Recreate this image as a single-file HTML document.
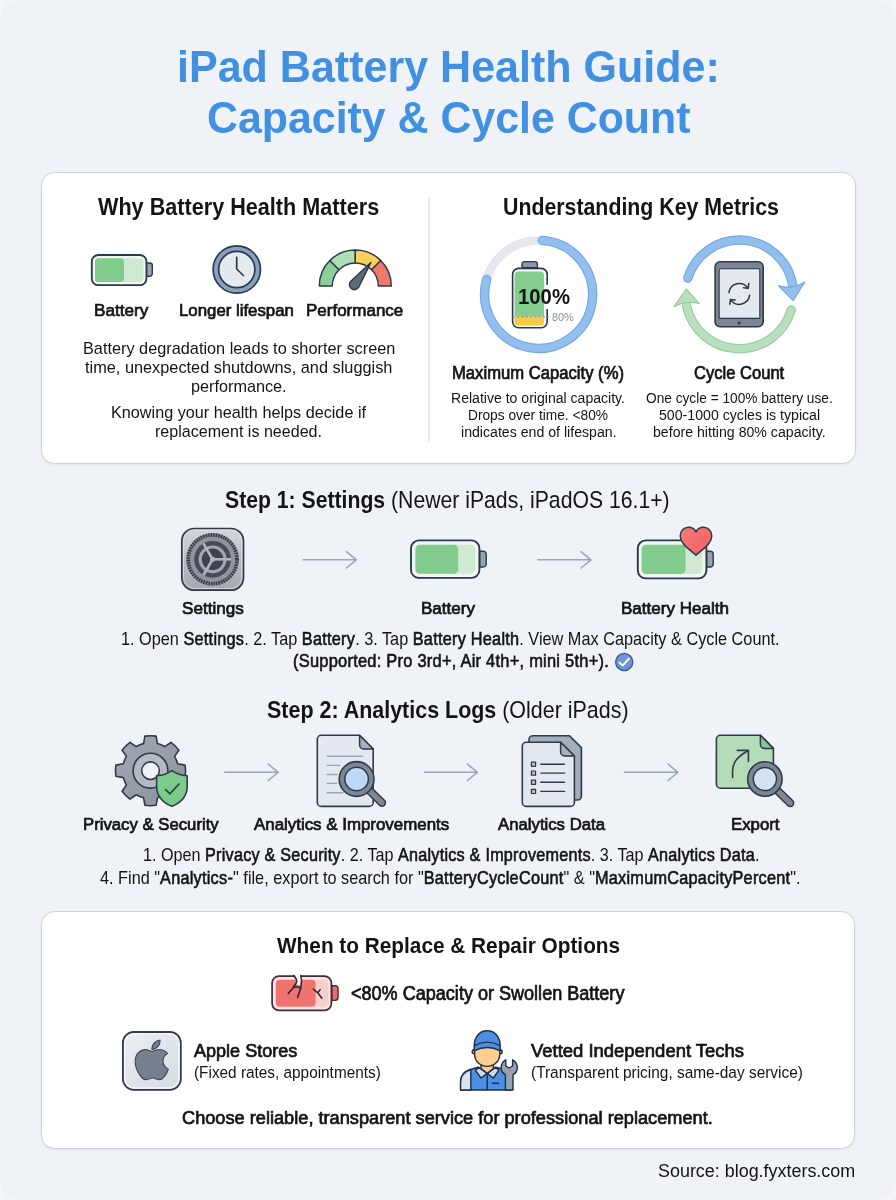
<!DOCTYPE html>
<html><head><meta charset="utf-8"><title>iPad Battery Health Guide</title>
<style>
html,body{margin:0;padding:0}
body{width:896px;height:1200px;background:#f5f6f9;font-family:"Liberation Sans",sans-serif;position:relative;overflow:hidden}
#page{position:absolute;left:0;top:0;width:896px;height:1200px;background:#eff2f7;border-radius:20px;will-change:transform}
.card{position:absolute;background:#fff;border:1.4px solid #ccd1d9;border-radius:13.5px;box-sizing:border-box;box-shadow:0 1px 2px rgba(120,135,160,.10)}
svg{position:absolute;left:0;top:0}
.t{position:absolute;white-space:nowrap;line-height:1;transform-origin:0 0;color:#141414}
.t b{font-weight:400;-webkit-text-stroke:0.6px currentColor;letter-spacing:0.015em}
.h b{font-weight:700;-webkit-text-stroke:0;letter-spacing:0}
.m{font-weight:400 !important;-webkit-text-stroke:0.72px currentColor}
</style></head>
<body>
<div id="page">
<div class="card" style="left:40.8px;top:171.5px;width:814.9px;height:292.6px"></div>
<div class="card" style="left:40.8px;top:911px;width:814.5px;height:237.9px"></div>
<svg width="896" height="1200" viewBox="0 0 896 1200">
<defs>
<linearGradient id="gSet" x1="0" y1="0" x2="0" y2="1"><stop offset="0" stop-color="#d4d6db"/><stop offset="1" stop-color="#a3a7ae"/></linearGradient>
<linearGradient id="gGear" x1="0" y1="0" x2="1" y2="1"><stop offset="0" stop-color="#a1a8b2"/><stop offset="1" stop-color="#8a929d"/></linearGradient>
<linearGradient id="gHeart" x1="0" y1="0" x2="1" y2="1"><stop offset="0" stop-color="#f47c78"/><stop offset="1" stop-color="#ee5f5d"/></linearGradient>
<linearGradient id="gApple" x1="0" y1="0" x2="1" y2="1"><stop offset="0" stop-color="#eceff4"/><stop offset="1" stop-color="#d6dbe3"/></linearGradient>
</defs>
<!-- ===== Card1: battery ===== -->
<g stroke-linejoin="round" stroke-linecap="round">
<path d="M146.5,263 h3.2 a2.6,2.6 0 0 1 2.6,2.6 v8 a2.6,2.6 0 0 1 -2.6,2.6 h-3.2z" fill="#9aa3ad" stroke="#2d384b" stroke-width="1.4"/>
<rect x="91.8" y="255" width="54.6" height="30.2" rx="6.5" fill="#f0f6f1" stroke="#2d384b" stroke-width="1.8"/>
<rect x="95" y="258.3" width="48.5" height="23.6" rx="4" fill="#cfe9d3"/>
<rect x="95" y="258.3" width="29" height="23.6" rx="3.5" fill="#82cc8e"/>
</g>
<!-- clock -->
<circle cx="236.8" cy="269.5" r="23.7" fill="#88a0ba" stroke="#2c3a50" stroke-width="1.7"/>
<circle cx="236.8" cy="269.5" r="18.1" fill="#e5eaf1" stroke="#2c3a50" stroke-width="1.7"/>
<path d="M236.7,257.4 V269 L243.4,275.5" fill="none" stroke="#2d384b" stroke-width="1.7" stroke-linecap="round" stroke-linejoin="round"/>
<!-- gauge -->
<g stroke="#2d384b" stroke-width="1.4" stroke-linejoin="round">
<path d="M319.3,286 A36,36 0 0 1 329.84,260.54 L339.04,269.74 A23,23 0 0 0 332.3,286 Z" fill="#8ccf98"/>
<path d="M329.84,260.54 A36,36 0 0 1 355.3,250 L355.3,263 A23,23 0 0 0 339.04,269.74 Z" fill="#addfb6"/>
<path d="M355.3,250 A36,36 0 0 1 380.76,260.54 L371.56,269.74 A23,23 0 0 0 355.3,263 Z" fill="#fad05a"/>
<path d="M380.76,260.54 A36,36 0 0 1 391.3,286 L378.3,286 A23,23 0 0 0 371.56,269.74 Z" fill="#ee7a6d"/>
<path d="M370.8,262.6 L358.7,287.2 A5,5 0 1 1 351.1,280.9 Z" fill="#5f6a78"/>
</g>
<!-- divider -->
<line x1="429" y1="197.5" x2="429" y2="441.5" stroke="#d9dde4" stroke-width="1.2"/>
<!-- ring -->
<circle cx="538.6" cy="294.3" r="54" fill="none" stroke="#e4e8ee" stroke-width="8.8"/>
<path d="M542.37,240.43 A54,54 0 1 1 486.69,279.42" fill="none" stroke="#72a7e2" stroke-width="9.4" stroke-linecap="round"/>
<path d="M542.37,240.43 A54,54 0 1 1 486.69,279.42" fill="none" stroke="#93bfee" stroke-width="7.2" stroke-linecap="round"/>
<!-- ring battery -->
<g stroke-linejoin="round">
<path d="M522,267.6 v-3.4 a2.6,2.6 0 0 1 2.6,-2.6 h10.2 a2.6,2.6 0 0 1 2.6,2.6 v3.4z" fill="#8e98a5" stroke="#2d384b" stroke-width="1.4"/>
<rect x="512.6" y="268.4" width="34.6" height="59.4" rx="6" fill="#f2f7f3" stroke="#2d384b" stroke-width="1.6"/>
<path d="M514.6,316.6 V275.6 a4,4 0 0 1 4,-4 h21.4 a4,4 0 0 1 4,4 V316.6z" fill="#86cd90"/>
<path d="M514.6,316.6 H544 V322 a3.6,3.6 0 0 1 -3.6,3.6 h-22.2 a3.6,3.6 0 0 1 -3.6,-3.6z" fill="#f6c947"/>
<rect x="545.6" y="284.8" width="3.4" height="24.2" fill="#fff"/>
<line x1="512.5" y1="316.8" x2="549" y2="316.8" stroke="#7f8a93" stroke-width="1" stroke-dasharray="2.5 1.8"/>
</g>
<!-- cycle arrows -->
<g fill="none" stroke-linecap="round">
<path d="M687.9,278 A54,54 0 0 1 792.6,284.5" stroke="#72a7e2" stroke-width="9.4"/>
<path d="M687.9,278 A54,54 0 0 1 792.6,284.5" stroke="#93bfee" stroke-width="7.2"/>
<path d="M791.2,310 A54,54 0 0 1 686.6,306" stroke="#95cb9f" stroke-width="9.4"/>
<path d="M791.2,310 A54,54 0 0 1 686.6,306" stroke="#badfbe" stroke-width="7.2"/>
</g>
<path d="M778.4,285.6 Q792,290 804.8,282 L793.2,300.6 Z" fill="#93bfee" stroke="#72a7e2" stroke-width="1.2" stroke-linejoin="round"/>
<path d="M674,306.6 Q687,300 699.4,303.6 L686.2,289 Z" fill="#badfbe" stroke="#95cb9f" stroke-width="1.2" stroke-linejoin="round"/>
<!-- ipad -->
<rect x="715.1" y="261.8" width="48.1" height="64.9" rx="5" fill="#7c8591" stroke="#2f3a4b" stroke-width="1.6"/>
<rect x="719.2" y="268.8" width="40.6" height="49.6" rx="1" fill="#e5e9f0" stroke="#2f3a4b" stroke-width="1.1"/>
<circle cx="739.2" cy="323" r="1.5" fill="#2c3645"/>
<g fill="none" stroke="#2c3645" stroke-width="1.5" stroke-linecap="round" stroke-linejoin="round">
<path d="M728.98,292.63 A10.4,10.4 0 0 1 747.82,287.93"/>
<path d="M748.72,283.53 L748.22,288.23 L743.52,287.73"/>
<path d="M749.62,295.17 A10.4,10.4 0 0 1 730.78,299.87"/>
<path d="M729.88,304.27 L730.38,299.57 L735.08,300.07"/>
</g>
<!-- ===== Step 1 ===== -->
<!-- settings -->
<rect x="181.8" y="528.5" width="61.7" height="61.7" rx="12.5" fill="url(#gSet)" stroke="#2f394a" stroke-width="1.7"/>
<rect x="183.5" y="530.2" width="58.3" height="58.3" rx="11" fill="none" stroke="#e2e4e8" stroke-width="1" opacity=".7"/>
<g transform="translate(212.6,559.3)">
<circle r="24.3" fill="none" stroke="#7a7f88" stroke-width="4"/>
<circle r="24.3" fill="none" stroke="#393f4a" stroke-width="4" stroke-dasharray="1.4 1.145"/>
<circle r="22.5" fill="#90949c"/>
<circle r="18.4" fill="#474d58"/>
<circle r="13.9" fill="#a3a7ae"/>
<circle r="10.8" fill="#3e444f"/>
<g stroke="#b3b6bc" stroke-width="2.6" stroke-linecap="butt">
<line x1="0" y1="0" x2="18.4" y2="0"/>
<line x1="0" y1="0" x2="-9.2" y2="-15.93"/>
<line x1="0" y1="0" x2="-9.2" y2="15.93"/>
</g>
<circle r="2.6" fill="#b3b6bc"/>
</g>
<!-- arrows step1 -->
<g fill="none" stroke="#9ba6b6" stroke-width="1.5" stroke-linecap="round" stroke-linejoin="round">
<path d="M303,559.8 H356.2 M346.4,551.6 L356.4,559.8 L346.4,568"/>
<path d="M537.8,559.8 H590.8 M581,551.6 L591,559.8 L581,568"/>
<path d="M224.8,772.3 H278 M268.2,764.1 L278.2,772.3 L268.2,780.5"/>
<path d="M424.6,772.3 H477.2 M467.4,764.1 L477.4,772.3 L467.4,780.5"/>
<path d="M624.4,772.3 H677.8 M668,764.1 L678,772.3 L668,780.5"/>
</g>
<!-- battery step1 -->
<g stroke-linejoin="round">
<path d="M479.6,551.2 h3.6 a3,3 0 0 1 3,3 v9.8 a3,3 0 0 1 -3,3 h-3.6z" fill="#9aa3ad" stroke="#2d384b" stroke-width="1.4"/>
<rect x="411" y="540.4" width="68.4" height="37.5" rx="8" fill="#f0f6f1" stroke="#2d384b" stroke-width="1.9"/>
<rect x="415.4" y="544.8" width="59.8" height="29" rx="5" fill="#cfe9d3"/>
<rect x="415.4" y="544.8" width="42.8" height="29" rx="4.5" fill="#82cc8e"/>
</g>
<!-- battery health -->
<g stroke-linejoin="round">
<path d="M706.6,551.2 h3.6 a3,3 0 0 1 3,3 v9.8 a3,3 0 0 1 -3,3 h-3.6z" fill="#9aa3ad" stroke="#2d384b" stroke-width="1.4"/>
<rect x="637.8" y="540.4" width="68.6" height="38" rx="8" fill="#f0f6f1" stroke="#2d384b" stroke-width="1.9"/>
<rect x="641.6" y="544.8" width="60.6" height="29.2" rx="5" fill="#cfe9d3"/>
<rect x="641.6" y="544.8" width="44" height="29.2" rx="4.5" fill="#82cc8e"/>
<path d="M696,555.2 C690,549.5 680.2,544 680.2,536 C680.2,530.6 684.4,527.2 688.6,527.2 C691.8,527.2 694.6,529 696,531.8 C697.4,529 700.2,527.2 703.4,527.2 C707.6,527.2 711.8,530.6 711.8,536 C711.8,544 702,549.5 696,555.2 Z" fill="url(#gHeart)" stroke="#2d384b" stroke-width="1.5"/>
</g>
<!-- check -->
<circle cx="624.2" cy="662" r="8.6" fill="#6d94d4" stroke="#38588f" stroke-width="1.3"/>
<path d="M619.4,662.6 L622.8,665.4 L629,658.6" fill="none" stroke="#fff" stroke-width="2" stroke-linecap="round" stroke-linejoin="round"/>
<!-- ===== Step 2 ===== -->
<!-- gear -->
<path d="M143.57,743.57 L144.92,736.15 A35.0,35.0 0 0 1 156.08,736.15 L157.43,743.57 A28.0,28.0 0 0 1 164.79,746.62 L170.99,742.32 A35.0,35.0 0 0 1 178.88,750.21 L174.58,756.41 A28.0,28.0 0 0 1 177.63,763.77 L185.05,765.12 A35.0,35.0 0 0 1 185.05,776.28 L177.63,777.63 A28.0,28.0 0 0 1 174.58,784.99 L178.88,791.19 A35.0,35.0 0 0 1 170.99,799.08 L164.79,794.78 A28.0,28.0 0 0 1 157.43,797.83 L156.08,805.25 A35.0,35.0 0 0 1 144.92,805.25 L143.57,797.83 A28.0,28.0 0 0 1 136.21,794.78 L130.01,799.08 A35.0,35.0 0 0 1 122.12,791.19 L126.42,784.99 A28.0,28.0 0 0 1 123.37,777.63 L115.95,776.28 A35.0,35.0 0 0 1 115.95,765.12 L123.37,763.77 A28.0,28.0 0 0 1 126.42,756.41 L122.12,750.21 A35.0,35.0 0 0 1 130.01,742.32 L136.21,746.62 A28.0,28.0 0 0 1 143.57,743.57 Z" fill="url(#gGear)" stroke="#2f3a4b" stroke-width="1.6" stroke-linejoin="round"/>
<circle cx="150.5" cy="770.7" r="17.4" fill="#b3bac5" stroke="#2f3a4b" stroke-width="1.6"/>
<circle cx="150.5" cy="770.7" r="8.8" fill="#eff2f7" stroke="#2f3a4b" stroke-width="1.6"/>
<!-- shield -->
<path d="M171.9,770.6 C167,774 161.6,775.4 156.6,775.8 V786.5 C156.6,796.5 163.5,803.2 171.9,806.2 C180.3,803.2 187.2,796.5 187.2,786.5 V775.8 C182.2,775.4 176.8,774 171.9,770.6 Z" fill="#7ccb8a" stroke="#2f3d4a" stroke-width="1.6" stroke-linejoin="round"/>
<path d="M165.6,789.6 L170,793.8 L179,784" fill="none" stroke="#2f3d4a" stroke-width="1.7" stroke-linecap="round" stroke-linejoin="round"/>
<!-- doc + magnifier -->
<g stroke-linejoin="round" stroke-linecap="round">
<path d="M321.3,735.3 H359.6 L373.2,749 V802.4 a4,4 0 0 1 -4,4 H321.3 a4,4 0 0 1 -4,-4 V739.3 a4,4 0 0 1 4,-4 Z" fill="#e4e8ef" stroke="#2f3a4b" stroke-width="1.6"/>
<path d="M359.6,735.3 V745 a4,4 0 0 0 4,4 H373.2 Z" fill="#a7b0bd" stroke="#2f3a4b" stroke-width="1.5"/>
<g stroke="#9aa6b5" stroke-width="1.4" fill="none">
<path d="M327.2,756.3 H362.6 M327.2,765.4 H340 M327.2,774.5 H337 M327.2,783.4 H337 M327.2,792.7 H343"/>
</g>
<path d="M369.4,790.6 L382,802.8" stroke="#2f3a4b" stroke-width="8.4" fill="none"/>
<path d="M369.4,790.6 L382,802.8" stroke="#7d8692" stroke-width="5.4" fill="none"/>
<circle cx="356.6" cy="779" r="17.4" fill="#7d8692" stroke="#2f3a4b" stroke-width="1.6"/>
<circle cx="356.6" cy="779" r="11.8" fill="#bcd9f7" stroke="#2f3a4b" stroke-width="1.5"/>
</g>
<!-- analytics data -->
<g stroke-linejoin="round" stroke-linecap="round">
<path d="M533,735.7 H569.5 L581.4,747.6 V796 a4,4 0 0 1 -4,4 H533 a4,4 0 0 1 -4,-4 V739.7 a4,4 0 0 1 4,-4 Z" fill="#a3adbb" stroke="#2f3a4b" stroke-width="1.6"/>
<path d="M526.3,742.3 H560.6 L574.4,756 V802.4 a4,4 0 0 1 -4,4 H526.3 a4,4 0 0 1 -4,-4 V746.3 a4,4 0 0 1 4,-4 Z" fill="#e4e8ef" stroke="#2f3a4b" stroke-width="1.6"/>
<path d="M560.6,742.3 V752 a4,4 0 0 0 4,4 H574.4 Z" fill="#a7b0bd" stroke="#2f3a4b" stroke-width="1.5"/>
<g fill="#b4bdc9" stroke="#2f3a4b" stroke-width="1.2">
<rect x="531.4" y="762.1" width="4.2" height="4.2"/><rect x="531.4" y="771" width="4.2" height="4.2"/><rect x="531.4" y="780.2" width="4.2" height="4.2"/><rect x="531.4" y="789.3" width="4.2" height="4.2"/>
</g>
<path d="M540.8,764.2 H564.6 M540.8,773.1 H564.6 M540.8,782.3 H564.6 M540.8,791.4 H564.6" stroke="#2f3a4b" stroke-width="1.4" fill="none"/>
</g>
<!-- export -->
<g stroke-linejoin="round" stroke-linecap="round">
<path d="M720.4,735.3 H760.4 L773.4,748.4 V784.2 a4,4 0 0 1 -4,4 H720.4 a4,4 0 0 1 -4,-4 V739.3 a4,4 0 0 1 4,-4 Z" fill="#b4dcb6" stroke="#2f3d4a" stroke-width="1.6"/>
<path d="M760.4,735.3 V744.4 a4,4 0 0 0 4,4 H773.4 Z" fill="#84c78f" stroke="#2f3d4a" stroke-width="1.5"/>
<path d="M732.6,777.4 V771 C732.6,762 738,756.6 747.4,751" fill="none" stroke="#2f3d4a" stroke-width="1.6"/>
<path d="M737.4,750.4 H748.4 V761.6" fill="none" stroke="#2f3d4a" stroke-width="1.6"/>
<path d="M777.6,790.8 L790.2,803" stroke="#2f3a4b" stroke-width="8.4" fill="none"/>
<path d="M777.6,790.8 L790.2,803" stroke="#7d8692" stroke-width="5.4" fill="none"/>
<circle cx="764.9" cy="779" r="17.2" fill="#7d8692" stroke="#2f3a4b" stroke-width="1.6"/>
<circle cx="764.9" cy="779" r="11.6" fill="#d4e3f3" stroke="#2f3a4b" stroke-width="1.5"/>
</g>
<!-- ===== Bottom card ===== -->
<!-- red battery -->
<g stroke-linejoin="round" stroke-linecap="round">
<path d="M331.8,985.8 h3.4 a2.8,2.8 0 0 1 2.8,2.8 v9 a2.8,2.8 0 0 1 -2.8,2.8 h-3.4z" fill="#ee6b68" stroke="#3a2f3f" stroke-width="1.4"/>
<rect x="272.1" y="976.1" width="59.3" height="34.3" rx="7" fill="#fbe3e2" stroke="#3a2f3f" stroke-width="1.7"/>
<rect x="275.8" y="979.8" width="52.6" height="27" rx="4.5" fill="#f8cfcd"/>
<rect x="275.8" y="979.8" width="39.8" height="27" rx="4" fill="#ef7370"/>
<path d="M294.2,973.8 H300.6 L301.4,985.4 L296.4,984.6 L297,981 Z" fill="#fff" stroke="none"/>
<g fill="none" stroke="#2c2530" stroke-width="1.5">
<path d="M293.6,975.6 C295.8,977.8 297.2,980.2 296.6,982.2 C295.8,984.4 293.8,985.6 293.4,987.6 M293.4,987.6 L288.2,993.6 M293.4,987.6 C295.6,986.4 298.4,986.4 300.6,988.4 L297.6,997.6"/>
<path d="M300.8,975.6 C301.6,978.8 301.8,981.6 301.2,984.4 L300.6,988.4"/>
<path d="M313.2,989 L317.8,992.8 L321.8,998.2 M320.2,989.6 L317.8,992.8"/>
</g>
</g>
<!-- apple -->
<rect x="122.9" y="1032" width="57.9" height="57.8" rx="11" fill="url(#gApple)" stroke="#2f3a4b" stroke-width="1.8"/>
<rect x="124.7" y="1033.8" width="54.3" height="54.2" rx="9.4" fill="none" stroke="#f4f6f9" stroke-width="1.4"/>
<g transform="translate(134.8,1037.2) scale(0.0885)">
<path d="M318.7 268.7c-.2-36.7 16.4-64.4 50-84.8-18.8-26.9-47.2-41.7-84.7-44.6-35.5-2.8-74.3 20.7-88.5 20.7-15 0-49.4-19.7-76.4-19.7C63.3 141.2 4 184.8 4 273.5q0 39.300 14.400 81.200c12.800 36.700 59 126.700 107.200 125.200 25.200-.6 43-17.900 75.800-17.900 31.800 0 48.300 17.900 76.400 17.900 48.600-.7 90.400-82.500 102.600-119.300-65.200-30.700-61.700-90-61.700-91.900zm-56.600-164.200c27.300-32.400 24.800-61.900 24-72.500-24.100 1.400-52 16.400-67.900 34.900-17.500 19.800-27.800 44.300-25.600 71.900 26.100 2 49.900-11.400 69.500-34.300z" fill="#76808c" stroke="#3a4553" stroke-width="12" stroke-linejoin="round"/>
</g>
<!-- tech -->
<g stroke="#1f2d47" stroke-width="1.4" stroke-linejoin="round" stroke-linecap="round">
<!-- body -->
<path d="M460.6,1090 V1082 C460.6,1073.6 466,1070.4 472,1069 L478.6,1067.2 L487.2,1073.4 L495.8,1067.2 L502.4,1069 C506.4,1070 509.4,1072 511,1075 V1090 Z" fill="#4b8fe0"/>
<path d="M460.6,1090 V1082 C460.6,1075 464.6,1071.6 470.8,1069.6 V1090 Z" fill="#dbe3ee"/>
<path d="M478.6,1067.2 L475.6,1070.4 L481,1078 L487.2,1073.4 Z" fill="#cfdcec"/>
<path d="M495.8,1067.2 L498.8,1070.4 L493.4,1078 L487.2,1073.4 Z" fill="#cfdcec"/>
<path d="M487.2,1073.4 V1090" fill="none"/>
<path d="M492.4,1083.2 H498.6" fill="none" stroke-width="1.6"/>
<!-- neck & face -->
<path d="M481,1062 V1068.6 L487.2,1073.4 L493.4,1068.6 V1062 Z" fill="#fbd08f"/>
<circle cx="474.2" cy="1051.8" r="2" fill="#fbd08f"/><circle cx="500.2" cy="1051.8" r="2" fill="#fbd08f"/>
<path d="M474.6,1047 V1054 C474.6,1061.6 480.6,1066.4 487.2,1066.4 C493.8,1066.4 499.8,1061.6 499.8,1054 V1047 Z" fill="#fbd08f"/>
<!-- cap -->
<path d="M474.2,1046.4 C474.2,1036.6 479.6,1030.8 487.2,1030.8 C494.8,1030.8 500.2,1036.6 500.2,1046.4 V1050.8 C492,1046.6 482.4,1046.6 474.2,1050.8 Z" fill="#4b8fe0"/>
<path d="M474.4,1045.6 C482.6,1041.2 491.8,1041.2 500,1045.6" fill="none"/>
<!-- wrench -->
<path d="M505.4,1090 V1074.6 C502.4,1073 500.8,1069.8 501.2,1066.6 C501.6,1063.4 503.4,1061 505.8,1059.8 V1066 L509.2,1068 L512.6,1066 V1059.8 C515,1061 516.8,1063.4 517.2,1066.6 C517.6,1069.8 516,1073 513,1074.6 V1090 Z" fill="#97a2af"/>
</g>

</svg>
<span class="t " id="t0" style="left:177.4px;top:45.42px;font-size:44.2px;font-weight:700;color:#4290e2;transform:scaleX(0.9740)">iPad Battery Health Guide:</span>
<span class="t " id="t1" style="left:206.9px;top:96.31px;font-size:44.2px;font-weight:700;color:#4290e2;transform:scaleX(0.9700)">Capacity &amp; Cycle Count</span>
<span class="t " id="t2" style="left:98.4px;top:195.80px;font-size:23.3px;font-weight:700;color:#141414;transform:scaleX(0.9282)">Why Battery Health Matters</span>
<span class="t " id="t3" style="left:502.7px;top:195.80px;font-size:23.3px;font-weight:700;color:#141414;transform:scaleX(0.9147)">Understanding Key Metrics</span>
<span class="t m" id="t4" style="left:94.1px;top:301.81px;font-size:17.2px;font-weight:700;color:#141414;transform:scaleX(0.9990)">Battery</span>
<span class="t m" id="t5" style="left:179.3px;top:301.81px;font-size:17.2px;font-weight:700;color:#141414;transform:scaleX(0.9775)">Longer lifespan</span>
<span class="t m" id="t6" style="left:306.2px;top:301.81px;font-size:17.2px;font-weight:700;color:#141414;transform:scaleX(0.9888)">Performance</span>
<span class="t " id="t7" style="left:83.3px;top:340.51px;font-size:16.6px;font-weight:400;color:#141414;transform:scaleX(0.9814)">Battery degradation leads to shorter screen</span>
<span class="t " id="t8" style="left:85.2px;top:359.90px;font-size:16.6px;font-weight:400;color:#141414;transform:scaleX(0.9830)">time, unexpected shutdowns, and sluggish</span>
<span class="t " id="t9" style="left:191.4px;top:378.90px;font-size:16.6px;font-weight:400;color:#141414;transform:scaleX(0.9778)">performance.</span>
<span class="t " id="t10" style="left:111.0px;top:405.40px;font-size:16.6px;font-weight:400;color:#141414;transform:scaleX(0.9768)">Knowing your health helps decide if</span>
<span class="t " id="t11" style="left:155.4px;top:424.40px;font-size:16.6px;font-weight:400;color:#141414;transform:scaleX(0.9680)">replacement is needed.</span>
<span class="t m" id="t12" style="left:452.4px;top:364.80px;font-size:17.7px;font-weight:700;color:#141414;transform:scaleX(0.9409)">Maximum Capacity (%)</span>
<span class="t m" id="t13" style="left:694.0px;top:364.80px;font-size:17.7px;font-weight:700;color:#141414;transform:scaleX(0.9362)">Cycle Count</span>
<span class="t " id="t14" style="left:451.4px;top:390.00px;font-size:15.3px;font-weight:400;color:#141414;transform:scaleX(0.9190)">Relative to original capacity.</span>
<span class="t " id="t15" style="left:468.4px;top:407.41px;font-size:15.3px;font-weight:400;color:#141414;transform:scaleX(0.8973)">Drops over time. &lt;80%</span>
<span class="t " id="t16" style="left:460.6px;top:424.41px;font-size:15.3px;font-weight:400;color:#141414;transform:scaleX(0.9240)">indicates end of lifespan.</span>
<span class="t " id="t17" style="left:646.0px;top:390.00px;font-size:15.3px;font-weight:400;color:#141414;transform:scaleX(0.8944)">One cycle = 100% battery use.</span>
<span class="t " id="t18" style="left:658.8px;top:407.41px;font-size:15.3px;font-weight:400;color:#141414;transform:scaleX(0.9242)">500-1000 cycles is typical</span>
<span class="t " id="t19" style="left:652.8px;top:424.41px;font-size:15.3px;font-weight:400;color:#141414;transform:scaleX(0.9240)">before hitting 80% capacity.</span>
<span class="t " id="t20" style="left:518.0px;top:286.31px;font-size:22.6px;font-weight:700;color:#141414;transform:scaleX(0.8997)">100%</span>
<span class="t " id="t21" style="left:552.2px;top:311.31px;font-size:11.6px;font-weight:400;color:#8a9099;transform:scaleX(0.9389)">80%</span>
<span class="t h" id="t22" style="left:225.0px;top:487.60px;font-size:24.5px;font-weight:400;color:#141414;transform:scaleX(0.8650)"><b>Step 1: Settings</b> (Newer iPads, iPadOS 16.1+)</span>
<span class="t m" id="t23" style="left:181.6px;top:599.61px;font-size:17.2px;font-weight:700;color:#141414;transform:scaleX(0.9966)">Settings</span>
<span class="t m" id="t24" style="left:420.5px;top:599.61px;font-size:17.2px;font-weight:700;color:#141414;transform:scaleX(0.9917)">Battery</span>
<span class="t m" id="t25" style="left:620.5px;top:599.61px;font-size:17.2px;font-weight:700;color:#141414;transform:scaleX(0.9915)">Battery Health</span>
<span class="t " id="t26" style="left:120.9px;top:630.32px;font-size:18.2px;font-weight:400;color:#141414;transform:scaleX(0.8950)">1. Open <b>Settings</b>. 2. Tap <b>Battery</b>. 3. Tap <b>Battery Health</b>. View Max Capacity &amp; Cycle Count.</span>
<span class="t " id="t27" style="left:292.8px;top:652.41px;font-size:18.2px;font-weight:400;color:#141414;transform:scaleX(0.9031)"><b>(Supported: Pro 3rd+, Air 4th+, mini 5th+).</b></span>
<span class="t h" id="t28" style="left:267.0px;top:698.10px;font-size:24.5px;font-weight:400;color:#141414;transform:scaleX(0.8756)"><b>Step 2: Analytics Logs</b> (Older iPads)</span>
<span class="t m" id="t29" style="left:82.8px;top:816.22px;font-size:17.2px;font-weight:700;color:#141414;transform:scaleX(0.9731)">Privacy &amp; Security</span>
<span class="t m" id="t30" style="left:253.5px;top:816.22px;font-size:17.2px;font-weight:700;color:#141414;transform:scaleX(0.9824)">Analytics &amp; Improvements</span>
<span class="t m" id="t31" style="left:498.0px;top:816.22px;font-size:17.2px;font-weight:700;color:#141414;transform:scaleX(0.9740)">Analytics Data</span>
<span class="t m" id="t32" style="left:730.5px;top:816.22px;font-size:17.2px;font-weight:700;color:#141414;transform:scaleX(0.9761)">Export</span>
<span class="t " id="t33" style="left:142.8px;top:846.21px;font-size:18.2px;font-weight:400;color:#141414;transform:scaleX(0.8895)">1. Open <b>Privacy &amp; Security</b>. 2. Tap <b>Analytics &amp; Improvements</b>. 3. Tap <b>Analytics Data</b>.</span>
<span class="t " id="t34" style="left:100.4px;top:868.71px;font-size:18.2px;font-weight:400;color:#141414;transform:scaleX(0.8948)">4. Find "<b>Analytics-</b>" file, export to search for "<b>BatteryCycleCount</b>" &amp; "<b>MaximumCapacityPercent</b>".</span>
<span class="t " id="t35" style="left:276.6px;top:933.60px;font-size:22.8px;font-weight:700;color:#141414;transform:scaleX(0.9120)">When to Replace &amp; Repair Options</span>
<span class="t m" id="t36" style="left:351.0px;top:984.31px;font-size:19.5px;font-weight:700;color:#141414;transform:scaleX(0.9257)">&lt;80% Capacity or Swollen Battery</span>
<span class="t m" id="t37" style="left:194.4px;top:1042.01px;font-size:18.7px;font-weight:700;color:#141414;transform:scaleX(0.9654)">Apple Stores</span>
<span class="t " id="t38" style="left:194.4px;top:1063.50px;font-size:17.2px;font-weight:400;color:#141414;transform:scaleX(0.8928)">(Fixed rates, appointments)</span>
<span class="t m" id="t39" style="left:530.6px;top:1042.01px;font-size:18.7px;font-weight:700;color:#141414;transform:scaleX(0.9871)">Vetted Independent Techs</span>
<span class="t " id="t40" style="left:530.6px;top:1064.00px;font-size:17.2px;font-weight:400;color:#141414;transform:scaleX(0.8970)">(Transparent pricing, same-day service)</span>
<span class="t m" id="t41" style="left:182.4px;top:1109.30px;font-size:18.7px;font-weight:700;color:#141414;transform:scaleX(0.9733)">Choose reliable, transparent service for professional replacement.</span>
<span class="t " id="t42" style="left:657.8px;top:1161.91px;font-size:18.7px;font-weight:400;color:#141414;transform:scaleX(0.9589)">Source: blog.fyxters.com</span>
</div>
</body></html>
